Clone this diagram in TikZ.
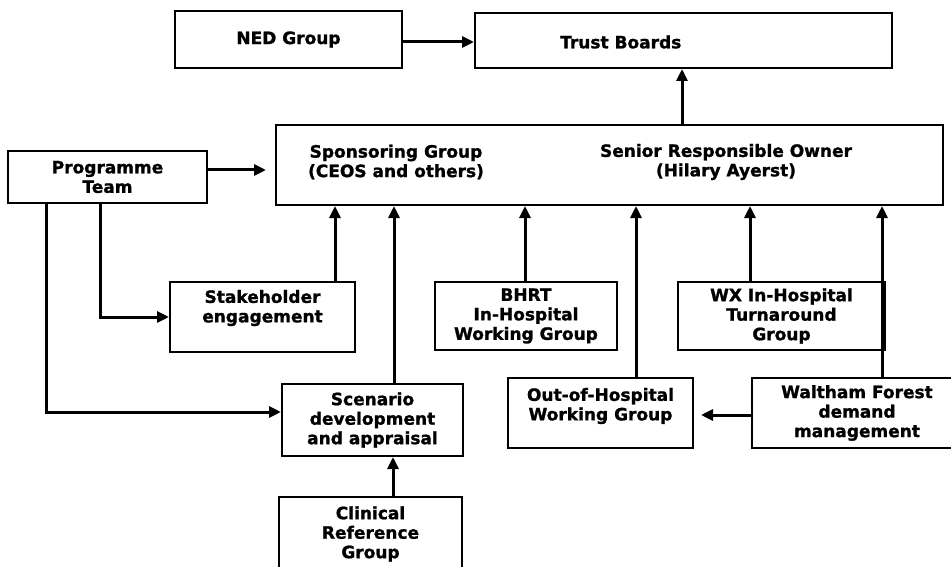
\documentclass[tikz,border=0pt]{standalone}
\usepackage{fontspec}
\setmainfont{DejaVu Sans}[BoldFeatures={FakeBold=1.2}]
\usetikzlibrary{arrows.meta}
\tikzset{
  box/.style={draw, line width=2pt, inner sep=0pt, align=center, font=\fontsize{17}{19.5}\selectfont\bfseries},
  lbl/.style={inner sep=0pt, align=center, font=\fontsize{17}{19.5}\selectfont\bfseries},
  arr/.style={line width=3pt, -{Triangle[length=12pt,width=11pt]}},
  ln/.style={line width=3pt}
}
\begin{document}
\begin{tikzpicture}[x=1pt,y=-1pt]
\useasboundingbox (0,0) rectangle (951,567);
% boxes
\node[box, minimum width=227pt, minimum height=57pt] (ned) at (288.5,39.5) {NED Group};
\node[box, minimum width=417pt, minimum height=55pt] (trust) at (683.5,40.5) {};
\node[lbl, anchor=west] (trust-t) at (560,42) {Trust Boards};
\node[box, minimum width=667pt, minimum height=80pt] (spons) at (609.5,165) {};
\node[lbl] (spons-t) at (396,162) {Sponsoring Group\\(CEOS and others)};
\node[lbl] (sro-t) at (726,162) {Senior Responsible Owner\\(Hilary Ayerst)};
\node[box, minimum width=199pt, minimum height=52pt] (prog) at (107.5,177) {Programme\\Team};
\node[box, minimum width=185pt, minimum height=70pt] (stake) at (262.5,317) {};
\node[lbl] (stake-t) at (262.5,308) {Stakeholder\\engagement};
\node[box, minimum width=182pt, minimum height=68pt] (bhrt) at (526,316) {BHRT\\In-Hospital\\Working Group};
\node[box, minimum width=207pt, minimum height=68pt] (wx) at (781.5,316) {WX In-Hospital\\Turnaround\\Group};
\node[box, minimum width=185pt, minimum height=70pt] (ooh) at (600.5,413) {};
\node[lbl] (ooh-t) at (600.5,406) {Out-of-Hospital\\Working Group};
\node[box, minimum width=210pt, minimum height=70pt] (wf) at (857,413) {Waltham Forest\\demand\\management};
\node[box, minimum width=181pt, minimum height=72pt] (scen) at (372.5,420) {Scenario\\development\\and appraisal};
\node[box, minimum width=183pt, minimum height=74pt] (clin) at (370.5,534) {Clinical\\Reference\\Group};
% connectors
\draw[arr] (ned.east |- 0,42) -- (trust.west |- 0,42);
\draw[arr] (spons.north -| 682,0) -- (trust.south -| 682,0);
\draw[arr, shorten >=9pt] (prog.east |- 0,170) -- (spons.west |- 0,170);
\draw[arr] (prog.south -| 100,0) -- (100,317) -- (stake.west |- 0,317);
\draw[arr] (prog.south -| 46,0) -- (46,412) -- (scen.west |- 0,412);
\draw[arr] (stake.north -| 335,0) -- (spons.south -| 335,0);
\draw[arr] (scen.north -| 394,0) -- (spons.south -| 394,0);
\draw[arr] (clin.north -| 393,0) -- (scen.south -| 393,0);
\draw[arr] (bhrt.north -| 525,0) -- (spons.south -| 525,0);
\draw[arr] (ooh.north -| 636,0) -- (spons.south -| 636,0);
\draw[arr] (wx.north -| 750,0) -- (spons.south -| 750,0);
\draw[arr] (wf.north -| 882,0) -- (spons.south -| 882,0);
\draw[arr, shorten >=7pt] (wf.west |- 0,415) -- (ooh.east |- 0,415);
\end{tikzpicture}
\end{document}
